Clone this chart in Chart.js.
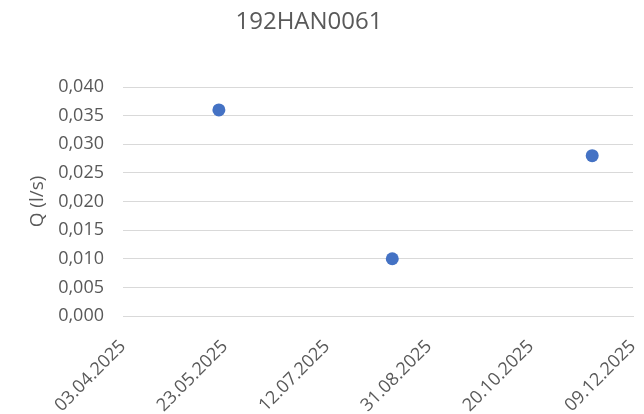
<!DOCTYPE html>
<html>
<head>
<meta charset="utf-8">
<script src="https://cdn.jsdelivr.net/npm/chart.js@4/dist/chart.umd.min.js"></script>
<style>
  html, body { margin: 0; padding: 0; background: #ffffff; }
  #wrap { width: 644px; height: 414px; position: relative; }
</style>
</head>
<body>
<div id="wrap"><canvas id="c" width="644" height="414"></canvas></div>
<script>
// Measurement station and its discharge readings
const chartTitle = "192HAN0061";
const yAxisTitle = "Q (l/s)";
const sampleDates = ["2025-05-20", "2025-08-13", "2025-11-19"];
const dischargeValues = [0.036, 0.010, 0.028];

// Date axis: start, end and step in days
const axisStartDate = "2025-04-03";
const axisEndDate = "2025-12-09";
const axisStepDays = 50;
// Flow axis range
const yMin = 0;
const yMax = 0.04;
const yStep = 0.005;

const DAY = 86400000;
function toUTC(iso) {
  const [y, m, d] = iso.split("-").map(Number);
  return Date.UTC(y, m - 1, d);
}
const origin = toUTC(axisStartDate);
function dayOffset(iso) { return Math.round((toUTC(iso) - origin) / DAY); }
function formatDay(offset) {
  const d = new Date(origin + offset * DAY);
  const dd = String(d.getUTCDate()).padStart(2, "0");
  const mm = String(d.getUTCMonth() + 1).padStart(2, "0");
  return dd + "." + mm + "." + d.getUTCFullYear();
}

const points = sampleDates.map((d, i) => ({ x: dayOffset(d), y: dischargeValues[i] }));

const FONT = "'Open Sans', 'Liberation Sans', sans-serif";
const TEXT = "#595959";
const GRID = "#d9d9d9";

// Title drawn centred above the plot
const titlePlugin = {
  id: "stationTitle",
  afterDraw(chart) {
    const ctx = chart.ctx;
    ctx.save();
    ctx.font = "24px " + FONT;
    ctx.fillStyle = TEXT;
    ctx.textAlign = "center";
    ctx.textBaseline = "middle";
    ctx.fillText(chartTitle, 309, 22);
    ctx.restore();
  }
};

new Chart(document.getElementById("c"), {
  type: "scatter",
  data: {
    datasets: [{
      data: points,
      backgroundColor: "#4472C4",
      borderColor: "#4472C4",
      pointRadius: 6.5,
      pointHoverRadius: 6.5,
      borderWidth: 0
    }]
  },
  options: {
    responsive: false,
    animation: false,
    layout: { padding: { left: 0, right: 11, top: 87, bottom: 0 } },
    plugins: {
      legend: { display: false },
      tooltip: { enabled: false },
      title: { display: false }
    },
    scales: {
      x: {
        type: "linear",
        min: 0,
        max: dayOffset(axisEndDate),
        afterFit(scale) {
          scale.height = 98;
          scale.paddingLeft = 0;
          scale.paddingRight = 0;
        },
        grid: { display: false, drawTicks: false },
        border: { display: true, color: GRID, width: 1 },
        ticks: {
          stepSize: axisStepDays,
          autoSkip: false,
          minRotation: 45,
          maxRotation: 45,
          padding: 20,
          color: TEXT,
          font: { family: FONT, size: 18 },
          callback: (v) => formatDay(v)
        }
      },
      y: {
        min: yMin,
        max: yMax,
        afterFit(scale) { scale.width = 123; },
        grid: { color: GRID, lineWidth: 1, drawTicks: false },
        border: { display: false },
        ticks: {
          stepSize: yStep,
          padding: 19,
          color: TEXT,
          font: { family: FONT, size: 18 },
          callback: (v) => v.toFixed(3).replace(".", ",")
        },
        title: {
          display: true,
          text: yAxisTitle,
          color: TEXT,
          font: { family: FONT, size: 19, weight: "normal" },
          padding: { top: 26, bottom: 0 }
        }
      }
    }
  },
  plugins: [titlePlugin]
});
</script>
</body>
</html>
